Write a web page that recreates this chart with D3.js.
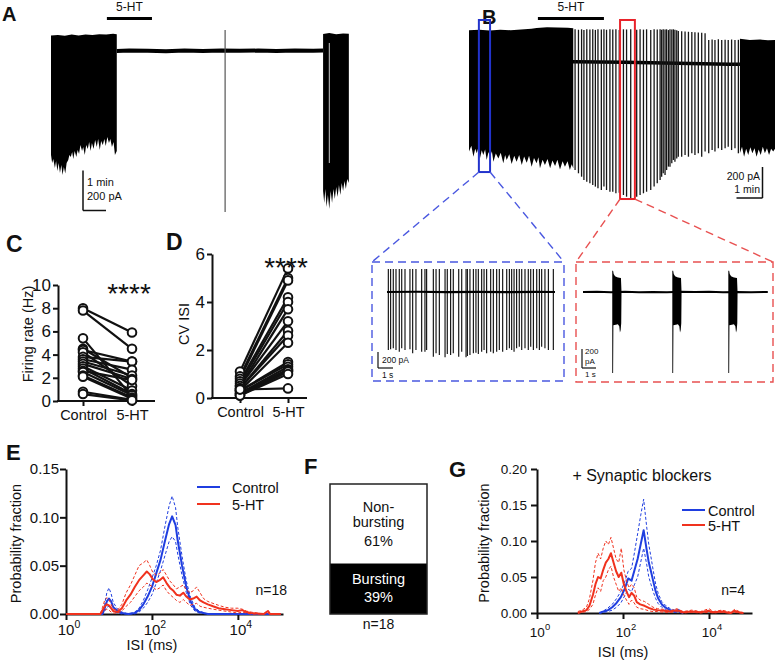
<!DOCTYPE html>
<html>
<head>
<meta charset="utf-8">
<script src="https://cdn.jsdelivr.net/npm/d3@7/dist/d3.min.js"></script>
<style>
html,body{margin:0;padding:0;background:#fff;}
svg{display:block;}
</style>
</head>
<body>
<svg id="fig" width="775" height="663"></svg>
<script>
// ================= DATA =================
// ---- Panel A: voltage-clamp trace (time in min, current in pA) ----
const aBlock1Top = [[0,78],[0.3,80],[0.6,76],[0.9,82],[1.2,78],[1.5,82],[1.8,80],[2.1,84],[2.4,82],[2.7,86],[2.86,84]];
const aBlock1Bot = [[0,-520],[0.05,-560],[0.10,-540],[0.17,-585],[0.22,-550],[0.28,-600],[0.33,-560],[0.39,-610],[0.45,-570],[0.50,-620],[0.56,-580],[0.62,-612],[0.68,-560],[0.75,-545],[0.80,-520],[0.86,-530],[0.92,-505],[0.97,-540],[1.03,-500],[1.10,-530],[1.16,-495],[1.22,-515],[1.28,-470],[1.35,-500],[1.40,-480],[1.47,-520],[1.53,-470],[1.60,-490],[1.66,-455],[1.72,-500],[1.78,-460],[1.85,-490],[1.92,-445],[1.99,-480],[2.05,-440],[2.12,-495],[2.18,-450],[2.25,-470],[2.32,-440],[2.38,-475],[2.45,-430],[2.52,-460],[2.58,-440],[2.65,-480],[2.72,-455],[2.78,-520],[2.86,-500]];
const aBaseline = [[2.86,0],[3.4,3],[4.2,1],[5.0,-1],[5.8,2],[6.6,0],[7.4,3],[8.2,1],[9.0,2],[9.8,0],[10.6,2],[11.4,1],[11.83,2]];
const aBlock2Top = [[11.83,85],[12.1,90],[12.4,84],[12.7,88],[12.95,86]];
const aBlock2Bot = [[11.83,-700],[11.88,-760],[11.93,-690],[11.98,-780],[12.04,-720],[12.1,-790],[12.16,-700],[12.22,-760],[12.28,-690],[12.34,-740],[12.4,-680],[12.46,-730],[12.52,-670],[12.58,-720],[12.64,-660],[12.7,-700],[12.76,-650],[12.82,-690],[12.88,-640],[12.95,-660]];
const aBlock2Gap = 12.1;
const aArtifactT = 7.57;
const aArtifactRange = [105, -805];
const aDrug = [2.43, 4.39];

// ---- Panel B: trace (time in min, current in pA) ----
const bBlock1Top = [[0,205],[0.4,208],[0.8,204],[1.2,208],[1.6,205],[2.0,210],[2.4,214],[2.6,220],[3.0,224],[3.4,223],[3.8,221],[4.01,218]];
const bBlock1Bot = [[0,-578],[0.09,-540],[0.17,-611],[0.24,-560],[0.30,-589],[0.36,-550],[0.42,-622],[0.49,-570],[0.55,-600],[0.62,-565],[0.68,-632],[0.75,-580],[0.81,-611],[0.88,-575],[0.94,-643],[1.03,-590],[1.13,-622],[1.22,-585],[1.32,-654],[1.39,-600],[1.45,-632],[1.55,-595],[1.64,-658],[1.74,-605],[1.83,-643],[1.93,-600],[2.03,-665],[2.12,-610],[2.22,-650],[2.31,-605],[2.41,-675],[2.5,-620],[2.60,-654],[2.67,-615],[2.73,-686],[2.83,-630],[2.92,-665],[3.02,-625],[3.12,-686],[3.21,-635],[3.31,-671],[3.40,-630],[3.50,-693],[3.6,-640],[3.69,-675],[3.79,-640],[3.88,-697],[3.95,-660],[4.01,-686]];
const bBaseline = [[4.0,2],[5.0,0],[6.0,-2],[7.0,-5],[8.0,-8],[9.0,-11],[10.0,-14],[10.42,-15]];
const bSpikeT = [4.08,4.21,4.33,4.42,4.53,4.65,4.76,4.86,4.96,5.09,5.19,5.29,5.42,5.53,5.65,5.78,5.94,6.06,6.22,6.45,6.58,6.71,6.83,6.99,7.12,7.24,7.35,7.41,7.47,7.54,7.60,7.67,7.73,7.80,7.86,7.92,7.99,8.05,8.18,8.31,8.44,8.57,8.69,8.82,8.95,9.08,9.22,9.35,9.46,9.59,9.72,9.85,9.97,10.10,10.23,10.36];
const bSpikeTop = [211,208,211,206,211,209,211,207,211,210,211,208,211,209,211,206,211,210,211,208,211,209,211,207,211,210,211,208,211,209,211,206,211,210,211,208,205,200,198,196,195,194,192,190,188,185,142,145,142,146,142,144,142,145,142,143];
const bSpikeBot = [-697,-718,-740,-761,-772,-783,-794,-804,-815,-826,-804,-826,-837,-837,-847,-843,-858,-869,-880,-869,-858,-847,-837,-826,-804,-783,-761,-740,-718,-729,-697,-675,-675,-654,-632,-643,-622,-611,-611,-600,-611,-589,-600,-589,-611,-578,-589,-568,-578,-557,-568,-557,-546,-568,-557,-589];
const bBlock2Top = [[10.42,150],[10.8,142],[11.2,145],[11.5,140],[11.77,142]];
const bBlock2Bot = [[10.42,-589],[10.5,-546],[10.58,-611],[10.66,-560],[10.74,-600],[10.82,-550],[10.9,-589],[10.98,-557],[11.06,-611],[11.14,-565],[11.22,-600],[11.3,-546],[11.38,-589],[11.46,-557],[11.54,-600],[11.62,-560],[11.7,-578],[11.77,-560]];
const bDrug = [2.65, 5.19];
const bBlueWin = [0.38, 0.81];   // min
const bRedWin = [5.81, 6.38];    // min
const bBlueWinAmp = [271, -710]; // pA
const bRedWinAmp = [271, -884];

// ---- Blue inset (control, time in s) ----
const blueSpikeT = [0.09,0.24,0.42,0.6,0.82,0.98,1.2,1.53,1.71,1.93,2.31,2.53,2.64,3.09,3.27,3.49,3.87,4.02,4.24,4.42,4.78,4.98,5.27,5.36,5.53,5.76,5.93,6.09,6.31,6.47,6.64,6.91,7.09,7.31,7.49,7.71,7.98,8.16,8.31,8.47,8.64,8.82,8.98,9.2,9.42,9.58,9.76,9.98,10.16,10.31,10.53,10.76,11.09];
const blueSpikeBot = [-725,-717,-704,-725,-746,-704,-725,-717,-767,-725,-746,-746,-725,-808,-767,-787,-817,-775,-787,-767,-808,-746,-817,-800,-787,-767,-758,-775,-746,-725,-767,-746,-767,-746,-725,-746,-725,-704,-725,-746,-704,-683,-725,-704,-725,-683,-725,-704,-725,-683,-704,-725,-725];
const blueSpikeTop = 288;
const blueBaseline = [[0,0],[2,3],[4,-2],[6,2],[8,-1],[10,2],[11.2,0]];

// ---- Red inset (5-HT, time in s) ----
const redBurstStart = [2.09, 6.38, 10.38];
const redBurstTop = [[0,224],[0.06,224],[0.1,190],[0.2,165],[0.35,155],[0.5,150],[0.62,148],[0.66,0]];
const redBurstBot = [[0,-853],[0.06,-853],[0.08,-350],[0.25,-345],[0.4,-340],[0.5,-360],[0.55,-425],[0.6,-400],[0.64,-330],[0.66,0]];
const redBaseline = [[0,0],[1,3],[2,-2],[3,2],[4,-3],[5,1],[6,-2],[7,2],[8,-1],[9,3],[10,-2],[11,1],[12,-2],[13.2,1]];

// ---- Panel C: firing rate (Hz), paired ----
const cCategories = ['Control', '5-HT'];
const firingControl = [8.0,7.8,5.4,4.5,4.4,4.2,3.8,3.6,3.4,3.2,3.0,2.8,2.6,2.5,2.2,2.1,0.8,0.6];
const firing5HT     = [5.9,4.5,0.4,2.0,3.4,1.3,3.4,2.7,2.2,1.9,0.9,0.6,1.8,0.5,0.3,0.2,0.1,0.05];
const cTicks = [0,2,4,6,8,10];

// ---- Panel D: CV ISI, paired ----
const cvControl = [1.1,0.9,0.8,0.7,0.6,0.5,0.5,0.4,0.4,0.3,0.3,0.3,0.2,0.2,0.15,0.1,0.1,0.35];
const cv5HT     = [5.4,5.0,4.9,4.2,4.0,3.7,3.2,2.8,2.6,2.3,1.5,1.4,1.3,1.2,1.15,1.1,1.0,0.4];
const dTicks = [0,2,4,6];

// ---- Panel E: ISI distributions (x = log10 ISI in ms) ----
const eCtrlX = [0,0.85,0.9,0.95,1.0,1.05,1.1,1.2,1.3,1.45,1.6,1.7,1.8,1.9,2.0,2.1,2.2,2.3,2.4,2.47,2.55,2.6,2.7,2.8,2.9,3.0,3.1,3.3,5.0];
const eCtrlMean  = [0,0,0.006,0.013,0.016,0.013,0.007,0.003,0.001,0,0.001,0.004,0.01,0.018,0.028,0.042,0.056,0.075,0.093,0.101,0.092,0.076,0.05,0.028,0.013,0.005,0.002,0,0];
const eCtrlUpper = [0,0,0.01,0.022,0.027,0.021,0.012,0.005,0.002,0,0.002,0.006,0.014,0.025,0.037,0.05,0.066,0.09,0.112,0.122,0.11,0.09,0.06,0.034,0.017,0.007,0.003,0,0];
const eCtrlLower = [0,0,0.003,0.007,0.008,0.006,0.003,0.001,0,0,0,0.002,0.006,0.012,0.02,0.032,0.045,0.06,0.075,0.08,0.075,0.062,0.04,0.022,0.009,0.003,0.001,0,0];
const eHtX = [0,0.8,0.85,0.9,0.95,1.0,1.05,1.1,1.2,1.3,1.4,1.5,1.6,1.7,1.8,1.88,1.95,2.02,2.1,2.18,2.26,2.34,2.42,2.5,2.57,2.65,2.73,2.8,2.88,2.96,3.04,3.12,3.2,3.3,3.42,3.55,3.7,3.85,4.0,4.1,4.2,4.3,4.6,4.7,4.75,4.8,5.0];
const eHtMean  = [0,0,0.004,0.008,0.01,0.009,0.006,0.003,0.002,0.006,0.014,0.02,0.028,0.035,0.04,0.044,0.041,0.036,0.033,0.035,0.038,0.032,0.027,0.024,0.02,0.019,0.022,0.018,0.015,0.016,0.018,0.014,0.012,0.01,0.008,0.006,0.005,0.004,0.003,0.004,0.002,0.001,0,0.003,0,0,0];
const eHtUpper = [0,0,0.007,0.014,0.017,0.015,0.01,0.005,0.004,0.01,0.022,0.03,0.04,0.05,0.053,0.056,0.05,0.043,0.04,0.042,0.046,0.04,0.034,0.03,0.026,0.028,0.03,0.025,0.022,0.024,0.028,0.022,0.016,0.013,0.011,0.009,0.007,0.006,0.006,0.005,0.003,0.002,0,0.004,0,0,0];
const eHtLower = [0,0,0.002,0.004,0.005,0.004,0.002,0.001,0.001,0.003,0.008,0.012,0.018,0.024,0.028,0.032,0.03,0.028,0.025,0.027,0.03,0.024,0.02,0.017,0.014,0.012,0.015,0.012,0.009,0.01,0.011,0.008,0.007,0.006,0.005,0.004,0.003,0.002,0.001,0.002,0.001,0,0,0.001,0,0,0];
const eYTicks = [0,0.05,0.10,0.15];
const logTicks = [0,2,4];

// ---- Panel F ----
const fLabels = ['Bursting', 'Non-bursting'];
const fPercents = [39, 61];
const fN = 18;

// ---- Panel G: ISI distributions with synaptic blockers ----
const gCtrlX = [1.45,1.55,1.65,1.75,1.85,1.95,2.05,2.12,2.2,2.27,2.34,2.41,2.48,2.55,2.6,2.65,2.7,2.76,2.82,2.9,3.0,3.1,3.2,3.3,3.4];
const gCtrlMean  = [0,0.002,0.004,0.008,0.014,0.022,0.035,0.048,0.045,0.06,0.075,0.095,0.115,0.088,0.07,0.058,0.045,0.03,0.02,0.012,0.007,0.004,0.002,0.003,0];
const gCtrlUpper = [0,0.003,0.007,0.012,0.02,0.03,0.045,0.058,0.062,0.085,0.11,0.135,0.158,0.12,0.095,0.078,0.06,0.04,0.027,0.016,0.01,0.006,0.004,0.005,0];
const gCtrlLower = [0,0.001,0.002,0.004,0.008,0.014,0.025,0.033,0.03,0.04,0.05,0.07,0.09,0.068,0.05,0.04,0.03,0.02,0.013,0.008,0.004,0.002,0.001,0.001,0];
const gHtX = [0.95,1.05,1.15,1.22,1.3,1.36,1.42,1.48,1.54,1.6,1.66,1.72,1.78,1.84,1.9,1.96,2.02,2.08,2.14,2.2,2.26,2.32,2.4,2.5,2.6,2.7,2.8,2.95,3.1,3.25,3.4,3.6,3.8,4.0,4.1,4.3,4.5,4.6,4.7,4.8];
const gHtMean  = [0,0.002,0.004,0.01,0.025,0.04,0.05,0.048,0.06,0.07,0.075,0.083,0.07,0.058,0.05,0.056,0.04,0.03,0.022,0.028,0.024,0.015,0.012,0.01,0.007,0.005,0.004,0.003,0.002,0.004,0.001,0.002,0.001,0.003,0.001,0.002,0,0.003,0.001,0];
const gHtUpper = [0.002,0.004,0.008,0.02,0.045,0.07,0.083,0.075,0.09,0.1,0.095,0.105,0.09,0.075,0.07,0.09,0.06,0.045,0.035,0.04,0.035,0.022,0.018,0.016,0.012,0.008,0.006,0.005,0.003,0.006,0.002,0.004,0.002,0.006,0.002,0.004,0.001,0.005,0.002,0];
const gHtLower = [0,0.001,0.002,0.005,0.012,0.025,0.035,0.03,0.045,0.05,0.06,0.065,0.05,0.04,0.03,0.035,0.025,0.018,0.012,0.018,0.014,0.008,0.006,0.005,0.003,0.002,0.002,0.001,0.001,0.002,0,0.001,0,0.001,0,0.001,0,0.001,0,0];
const gYTicks = [0,0.05,0.10,0.15,0.20];

// ================= DRAWING =================
const FONT = '"Liberation Sans", Arial, Helvetica, sans-serif';
const BLUE = '#1f3ee0', RED = '#f0321e';
const svg = d3.select('#fig');

function txt(s, x, y, size, o = {}) {
  const t = svg.append('text').attr('x', x).attr('y', y)
    .attr('font-size', size).attr('font-family', FONT).attr('fill', o.fill || '#111').text(s);
  if (o.anchor) t.attr('text-anchor', o.anchor);
  if (o.weight) t.attr('font-weight', o.weight);
  if (o.rotate) t.attr('transform', `rotate(-90,${x},${y})`);
  return t;
}
function polyPath(x, y, top, bot, dt = 0) {
  const pts = top.map(d => [x(d[0] + dt), y(d[1])])
    .concat(bot.slice().reverse().map(d => [x(d[0] + dt), y(d[1])]));
  return d3.line()(pts) + 'Z';
}
function lineXY(x, y) { return d3.line().x(d => x(d[0])).y(d => y(d[1])); }
function seg(x1, y1, x2, y2, color, w, dash) {
  return svg.append('line').attr('x1', x1).attr('y1', y1).attr('x2', x2).attr('y2', y2)
    .attr('stroke', color).attr('stroke-width', w).attr('stroke-dasharray', dash || null);
}

// ---------- Panel A ----------
txt('A', 2, 21, 20, {weight: 'bold'});
const xA = d3.scaleLinear().domain([0, 1]).range([51, 74]);
const yA = d3.scaleLinear().domain([0, -200]).range([51, 91]);
svg.append('path').attr('d', polyPath(xA, yA, aBlock1Top, aBlock1Bot)).attr('fill', '#000');
svg.append('path').attr('d', polyPath(xA, yA, aBlock2Top, aBlock2Bot)).attr('fill', '#000');
seg(xA(aBlock2Gap), yA(40), xA(aBlock2Gap), yA(-560), '#fff', 0.8);
svg.append('path').datum(aBaseline).attr('d', lineXY(xA, yA)).attr('fill', 'none').attr('stroke', '#000').attr('stroke-width', 4);
seg(xA(aArtifactT), yA(aArtifactRange[0]), xA(aArtifactT), yA(aArtifactRange[1]), '#555', 1.2);
seg(xA(aDrug[0]), 18.5, xA(aDrug[1]), 18.5, '#000', 3);
txt('5-HT', (xA(aDrug[0]) + xA(aDrug[1])) / 2, 11, 12, {anchor: 'middle'});
// scale bar A
{
  const ox = 83, oy = 210.5;
  seg(ox, oy - (yA(-200) - yA(0)), ox, oy, '#111', 1.5);
  seg(ox, oy, ox + (xA(1) - xA(0)), oy, '#111', 1.5);
  txt('1 min', 87, 186, 11);
  txt('200 pA', 87, 200, 11);
}

// ---------- Panel B ----------
txt('B', 482, 24, 20, {weight: 'bold'});
const xB = d3.scaleLinear().domain([0, 1]).range([469, 495]);
const yB = d3.scaleLinear().domain([0, -200]).range([62, 93]);
svg.append('path').datum(bBaseline).attr('d', lineXY(xB, yB)).attr('fill', 'none').attr('stroke', '#000').attr('stroke-width', 3.5);
svg.append('path').attr('d', polyPath(xB, yB, bBlock1Top, bBlock1Bot)).attr('fill', '#000');
svg.append('path').attr('d', polyPath(xB, yB, bBlock2Top, bBlock2Bot)).attr('fill', '#000');
svg.append('g').selectAll('line').data(bSpikeT).join('line')
  .attr('x1', d => xB(d)).attr('x2', d => xB(d))
  .attr('y1', (d, i) => yB(bSpikeTop[i])).attr('y2', (d, i) => yB(bSpikeBot[i]))
  .attr('stroke', '#151515').attr('stroke-width', 1.3);
seg(xB(bDrug[0]), 18.5, xB(bDrug[1]), 18.5, '#000', 3);
txt('5-HT', (xB(bDrug[0]) + xB(bDrug[1])) / 2, 11, 12, {anchor: 'middle'});
// windows
svg.append('rect').attr('x', xB(bBlueWin[0])).attr('y', yB(bBlueWinAmp[0]))
  .attr('width', xB(bBlueWin[1]) - xB(bBlueWin[0])).attr('height', yB(bBlueWinAmp[1]) - yB(bBlueWinAmp[0]))
  .attr('fill', 'none').attr('stroke', '#2233cc').attr('stroke-width', 2);
svg.append('rect').attr('x', xB(bRedWin[0])).attr('y', yB(bRedWinAmp[0]))
  .attr('width', xB(bRedWin[1]) - xB(bRedWin[0])).attr('height', yB(bRedWinAmp[1]) - yB(bRedWinAmp[0]))
  .attr('fill', 'none').attr('stroke', '#e8232a').attr('stroke-width', 2);
// scale bar B
{
  const ox = 762.5, oy = 198;
  seg(ox, oy - (yB(-200) - yB(0)), ox, oy, '#111', 1.5);
  seg(ox - (xB(1) - xB(0)), oy, ox, oy, '#111', 1.5);
  txt('200 pA', 760, 180, 10.5, {anchor: 'end'});
  txt('1 min', 760, 193, 10.5, {anchor: 'end'});
}

// connectors and inset frames
const blueBox = {x0: 372, y0: 262, x1: 564, y1: 381};
const redBox = {x0: 576, y0: 262, x1: 773, y1: 382};
const dashC = '8,5';
seg(xB(bBlueWin[0]), yB(bBlueWinAmp[1]), blueBox.x0, blueBox.y0, '#4a58e0', 1.4, dashC);
seg(xB(bBlueWin[1]), yB(bBlueWinAmp[1]), blueBox.x1, blueBox.y0, '#4a58e0', 1.4, dashC);
seg(xB(bRedWin[0]), yB(bRedWinAmp[1]), redBox.x0, redBox.y0, '#e85050', 1.4, dashC);
seg(xB(bRedWin[1]), yB(bRedWinAmp[1]), redBox.x1, redBox.y0, '#e85050', 1.4, dashC);
svg.append('rect').attr('x', blueBox.x0).attr('y', blueBox.y0).attr('width', blueBox.x1 - blueBox.x0).attr('height', blueBox.y1 - blueBox.y0)
  .attr('fill', 'none').attr('stroke', '#4a58e0').attr('stroke-width', 1.4).attr('stroke-dasharray', dashC);
svg.append('rect').attr('x', redBox.x0).attr('y', redBox.y0).attr('width', redBox.x1 - redBox.x0).attr('height', redBox.y1 - redBox.y0)
  .attr('fill', 'none').attr('stroke', '#e85050').attr('stroke-width', 1.4).attr('stroke-dasharray', dashC);

// blue inset trace
const xBI = d3.scaleLinear().domain([0, 1]).range([387, 402]);
const yBI = d3.scaleLinear().domain([0, -200]).range([292, 308]);
svg.append('g').selectAll('line').data(blueSpikeT).join('line')
  .attr('x1', d => xBI(d)).attr('x2', d => xBI(d))
  .attr('y1', yBI(blueSpikeTop)).attr('y2', (d, i) => yBI(blueSpikeBot[i]))
  .attr('stroke', '#1a1a1a').attr('stroke-width', 1.2);
svg.append('path').datum(blueBaseline).attr('d', lineXY(xBI, yBI)).attr('fill', 'none').attr('stroke', '#000').attr('stroke-width', 2.2);
{
  const ox = 378, oy = 368;
  seg(ox, oy - (yBI(-200) - yBI(0)), ox, oy, '#111', 1.2);
  seg(ox, oy, ox + (xBI(1) - xBI(0)), oy, '#111', 1.2);
  txt('200 pA', 382, 363, 8.5);
  txt('1 s', 382, 378, 8.5);
}

// red inset trace
const xRI = d3.scaleLinear().domain([0, 1]).range([583, 597]);
const yRI = d3.scaleLinear().domain([0, -200]).range([292, 311]);
svg.append('path').datum(redBaseline).attr('d', lineXY(xRI, yRI)).attr('fill', 'none').attr('stroke', '#000').attr('stroke-width', 2);
redBurstStart.forEach(t0 => {
  svg.append('path').attr('d', polyPath(xRI, yRI, redBurstTop, redBurstBot, t0)).attr('fill', '#000');
});
{
  const ox = 582, oy = 368;
  seg(ox, oy - (yRI(-200) - yRI(0)), ox, oy, '#111', 1.2);
  seg(ox, oy, ox + (xRI(1) - xRI(0)), oy, '#111', 1.2);
  txt('200', 585, 354, 8);
  txt('pA', 585, 364, 8);
  txt('1 s', 585, 376.5, 8);
}

// ---------- Panels C and D (paired plots) ----------
function paired(opts) {
  const {letter, lx, ly, axisX, axisEnd, xL, xR, y0, yTop, dom, ticks, ctrl, ht, ylab, ylabX, ylabY, starX, starY} = opts;
  txt(letter, lx, ly, 23, {weight: 'bold'});
  const x = d3.scalePoint().domain(cCategories).range([xL, xR]);
  const y = d3.scaleLinear().domain(dom).range([y0, yTop]);
  const g = svg.append('g');
  const ax = g.append('g').attr('transform', `translate(${axisX},0)`)
    .call(d3.axisLeft(y).tickValues(ticks).tickSize(5).tickPadding(2).tickSizeOuter(0).tickFormat(d3.format('d')));
  ax.select('.domain').attr('stroke', '#111').attr('stroke-width', 2);
  ax.selectAll('.tick line').attr('stroke', '#111').attr('stroke-width', 2);
  ax.selectAll('.tick text').attr('font-size', 17).attr('font-family', FONT).attr('fill', '#111');
  const bx = g.append('g').attr('transform', `translate(0,${y0})`)
    .call(d3.axisBottom(x).tickSize(5).tickPadding(4).tickSizeOuter(0));
  bx.select('.domain').remove();
  bx.selectAll('.tick line').attr('stroke', '#111').attr('stroke-width', 2);
  bx.selectAll('.tick text').attr('font-size', 14.5).attr('font-family', FONT).attr('fill', '#111');
  g.append('line').attr('x1', axisX - 1).attr('x2', axisEnd).attr('y1', y0).attr('y2', y0).attr('stroke', '#111').attr('stroke-width', 2);
  const pairs = ctrl.map((c, i) => [c, ht[i]]);
  g.append('g').selectAll('line').data(pairs).join('line')
    .attr('x1', x('Control')).attr('x2', x('5-HT'))
    .attr('y1', d => y(d[0])).attr('y2', d => y(d[1]))
    .attr('stroke', '#111').attr('stroke-width', 2.2);
  const pts = [];
  pairs.forEach(d => { pts.push([x('Control'), y(d[0])]); pts.push([x('5-HT'), y(d[1])]); });
  g.append('g').selectAll('circle').data(pts).join('circle')
    .attr('cx', d => d[0]).attr('cy', d => d[1]).attr('r', 4.3)
    .attr('fill', '#fff').attr('stroke', '#111').attr('stroke-width', 2);
  txt(ylab, ylabX, ylabY, 14.5, {anchor: 'middle', rotate: true});
  txt('****', starX, starY, 28, {anchor: 'middle'});
}
paired({letter: 'C', lx: 6, ly: 252, axisX: 58, axisEnd: 155, xL: 83, xR: 132, y0: 401, yTop: 285, dom: [0, 10], ticks: cTicks,
  ctrl: firingControl, ht: firing5HT, ylab: 'Firing rate (Hz)', ylabX: 33, ylabY: 334, starX: 129, starY: 303});
paired({letter: 'D', lx: 166, ly: 250, axisX: 212, axisEnd: 307, xL: 240, xR: 288, y0: 398, yTop: 254, dom: [0, 6], ticks: dTicks,
  ctrl: cvControl, ht: cv5HT, ylab: 'CV ISI', ylabX: 189, ylabY: 324, starX: 286, starY: 277});

// ---------- ISI distribution panels E and G ----------
function isiPanel(o) {
  const x = d3.scaleLinear().domain([0, o.xMax]).range([o.x0, o.x1]);
  const y = d3.scaleLinear().domain(o.yDom).range([o.y0, o.yTop]);
  const g = svg.append('g');
  const ay = g.append('g').attr('transform', `translate(${o.x0},0)`)
    .call(d3.axisLeft(y).tickValues(o.yTicks).tickFormat(d3.format('.2f')).tickSize(6).tickPadding(o.tickPad).tickSizeOuter(0));
  ay.select('.domain').attr('stroke', '#111').attr('stroke-width', 2);
  ay.selectAll('.tick line').attr('stroke', '#111').attr('stroke-width', 2);
  ay.selectAll('.tick text').attr('font-size', o.tickFont).attr('font-family', FONT).attr('fill', '#111');
  const ax = g.append('g').attr('transform', `translate(0,${o.y0})`)
    .call(d3.axisBottom(x).tickValues(logTicks).tickFormat('').tickSize(6).tickSizeOuter(0));
  ax.select('.domain').attr('stroke', '#111').attr('stroke-width', 2);
  ax.selectAll('.tick line').attr('stroke', '#111').attr('stroke-width', 2);
  logTicks.forEach(k => {
    const t = g.append('text').attr('x', x(k) + 3).attr('y', o.xLabY).attr('text-anchor', 'middle')
      .attr('font-family', FONT).attr('font-size', o.tickFont).attr('fill', '#111');
    t.append('tspan').text('10');
    t.append('tspan').attr('dy', -7).attr('font-size', o.tickFont * 0.7).text(k);
  });
  const curves = [
    [o.ctrlX, o.ctrlUpper, BLUE, 1, '3,2'], [o.ctrlX, o.ctrlLower, BLUE, 1, '3,2'], [o.ctrlX, o.ctrlMean, BLUE, 2, null],
    [o.htX, o.htUpper, RED, 1, '3,2'], [o.htX, o.htLower, RED, 1, '3,2'], [o.htX, o.htMean, RED, 2, null]
  ];
  curves.forEach(([xs, ys, col, w, dash]) => {
    g.append('path').datum(xs.map((v, i) => [v, ys[i]])).attr('d', lineXY(x, y))
      .attr('fill', 'none').attr('stroke', col).attr('stroke-width', w)
      .attr('stroke-dasharray', dash).attr('stroke-linejoin', 'round');
  });
  // legend
  seg(o.legX, o.legY, o.legX + 23, o.legY, BLUE, 2);
  seg(o.legX, o.legY + o.legDy, o.legX + 23, o.legY + o.legDy, RED, 2);
  txt('Control', o.legX + o.legTx, o.legY + 6, 14.5);
  txt('5-HT', o.legX + o.legTx, o.legY + o.legDy + 6, 14.5);
  txt('ISI (ms)', x(2), o.titleY, 14.5, {anchor: 'middle'});
  txt('Probability fraction', o.ylabX, (o.y0 + o.yTop) / 2 + 2, 14.5, {anchor: 'middle', rotate: true});
  txt(o.nText, o.nX, o.nY, 14, {anchor: 'end'});
}
txt('E', 6, 460, 22, {weight: 'bold'});
isiPanel({x0: 66, x1: 283, xMax: 5.05, y0: 614, yTop: 469, yDom: [0, 0.15], yTicks: eYTicks, tickFont: 15, tickPad: 1,
  xLabY: 635, titleY: 650, ylabX: 21,
  ctrlX: eCtrlX, ctrlMean: eCtrlMean, ctrlUpper: eCtrlUpper, ctrlLower: eCtrlLower,
  htX: eHtX, htMean: eHtMean, htUpper: eHtUpper, htLower: eHtLower,
  legX: 197, legY: 487, legDy: 17, legTx: 35, nText: 'n=18', nX: 287, nY: 595});

txt('G', 449, 477, 22, {weight: 'bold'});
isiPanel({x0: 537, x1: 752, xMax: 5, y0: 613, yTop: 469, yDom: [0, 0.2], yTicks: gYTicks, tickFont: 13.5, tickPad: 4,
  xLabY: 637, titleY: 657, ylabX: 489,
  ctrlX: gCtrlX, ctrlMean: gCtrlMean, ctrlUpper: gCtrlUpper, ctrlLower: gCtrlLower,
  htX: gHtX, htMean: gHtMean, htUpper: gHtUpper, htLower: gHtLower,
  legX: 682, legY: 510, legDy: 15, legTx: 26, nText: 'n=4', nX: 745, nY: 595});
txt('+ Synaptic blockers', 642, 481, 16, {anchor: 'middle'});

// ---------- Panel F ----------
txt('F', 304, 474, 22, {weight: 'bold'});
{
  const yF = d3.scaleLinear().domain([0, 100]).range([614, 484]);
  const x0 = 330, x1 = 427, cx = (x0 + x1) / 2;
  const stack = [[0, fPercents[0]], [fPercents[0], fPercents[0] + fPercents[1]]];
  svg.append('rect').attr('x', x0).attr('y', yF(stack[0][1])).attr('width', x1 - x0)
    .attr('height', yF(stack[0][0]) - yF(stack[0][1])).attr('fill', '#000');
  svg.append('rect').attr('x', x0).attr('y', yF(stack[1][1])).attr('width', x1 - x0)
    .attr('height', yF(stack[1][0]) - yF(stack[1][1])).attr('fill', '#fff');
  svg.append('rect').attr('x', x0).attr('y', yF(100)).attr('width', x1 - x0).attr('height', yF(0) - yF(100))
    .attr('fill', 'none').attr('stroke', '#222').attr('stroke-width', 1.5);
  txt('Non-', cx, 512, 14.5, {anchor: 'middle'});
  txt('bursting', cx, 527, 14.5, {anchor: 'middle'});
  txt(fPercents[1] + '%', cx, 546, 14.5, {anchor: 'middle'});
  txt(fLabels[0], cx, 584, 14.5, {anchor: 'middle', fill: '#fff'});
  txt(fPercents[0] + '%', cx, 602, 14.5, {anchor: 'middle', fill: '#fff'});
  txt('n=' + fN, cx, 629, 14, {anchor: 'middle'});
}
</script>
</body>
</html>
